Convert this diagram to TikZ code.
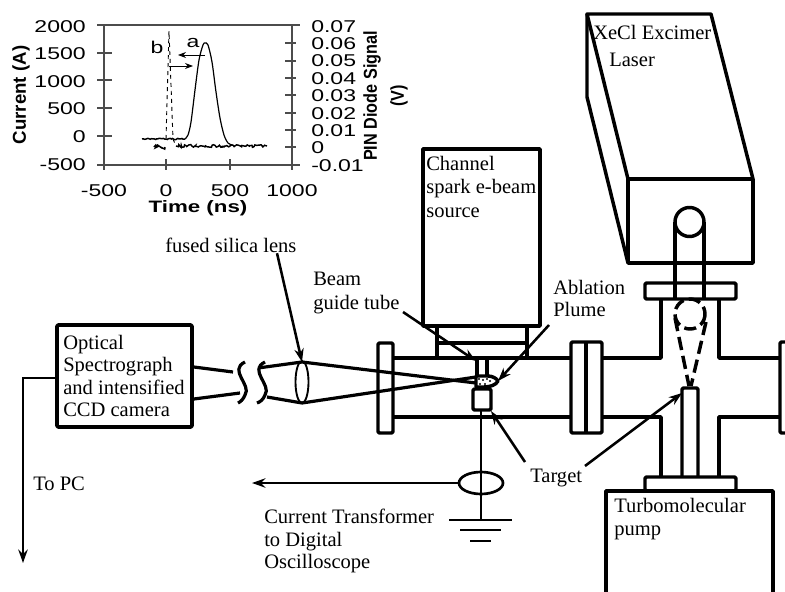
\documentclass[tikz,border=0pt]{standalone}
\usepackage{fontspec}
\setmainfont{Liberation Serif}
\newfontfamily\plotfont[FakeStretch=1.35]{Liberation Sans}
\newfontfamily\axisfont{Liberation Sans}
\usetikzlibrary{arrows.meta,decorations.pathmorphing,shapes.geometric}

\begin{document}
\begin{tikzpicture}[
  x=0.75pt, y=-0.75pt,
  wall/.style={draw, line width=2.6pt, line join=round},
  beam/.style={draw, line width=2.4pt, line join=round},
  arrow/.style={-{Stealth[length=10pt,width=7pt]}, line width=1.9pt},
  txt/.style={align=left, inner sep=0pt, anchor=north west, font=\fontsize{15.4}{17.5}\selectfont},
  axisline/.style={draw=black!70, line width=0.8pt},
  axisnum/.style={inner sep=0pt, font=\plotfont\fontsize{12.8}{13}\selectfont},
  axisname/.style={inner sep=0pt, font=\axisfont\bfseries\fontsize{14}{14}\selectfont},
  smallarrow/.style={-{Stealth[length=6pt,width=4.5pt]}, line width=0.7pt},
  noise/.style={line width=1.1pt, decorate, decoration={random steps, segment length=1pt, amplitude=#1}}
]
\useasboundingbox (0,0) rectangle (785,592);

% inset plot
\draw[axisline] (97,25) -- (300,25);
\draw[axisline] (97,165) -- (300,165);
\draw[axisline] (104,25) -- (104,170);
\draw[axisline] (292,25) -- (292,170);
\foreach \y in {53,80,108,136} \draw[axisline] (97,\y) -- (112,\y);
\foreach \y in {43,61,78,95,113,130,147} \draw[axisline] (285,\y) -- (296,\y);
\foreach \x in {166,230} \draw[axisline] (\x,159) -- (\x,170);
\foreach \t/\y in {2000/27,1500/54,1000/82,500/109,0/137,-500/165}
  \node[axisnum, anchor=east] (left\y) at (86,\y) {\t};
\foreach \t/\y in {0.07/27,0.06/44,0.05/61,0.04/79,0.03/96,0.02/114,0.01/131,0/148,-0.01/166}
  \node[axisnum, anchor=west] (right\y) at (311,\y) {\t};
\foreach \t/\x in {-500/104,0/166,500/230,1000/292}
  \node[axisnum] (bottom\x) at (\x,191) {\t};
\node[inner sep=0pt, font=\plotfont\bfseries\fontsize{12.4}{13}\selectfont] (time) at (198,208) {Time (ns)};
\node[axisname, rotate=90] (current) at (21,95) {Current (A)};
\node[axisname, rotate=90, xscale=0.87] (pin) at (372,96) {PIN Diode Signal};
\node[axisname, rotate=90, xscale=0.87] (volt) at (399,96) {(V)};
\node[axisnum] (a) at (193,43) {a};
\node[axisnum] (b) at (157,47) {b};
\pgfmathsetseed{7}
\draw[noise=0.5pt] (142,139) -- (185,139);
\draw[line width=0.9pt] plot[smooth] coordinates {(185,139) (188,135) (191,122) (195,90) (199,60) (203,45) (205,43) (208,45) (212,62) (216,92) (220,118) (224,135) (228,143) (232,145)};
\draw[noise=1pt] (176,146) -- (267,146);
\draw[noise=1.6pt] (154,147) -- (165,147);
\draw[line width=0.7pt, dashed] (166,139) -- (169,31) -- (173,139) -- (176,146);
\coordinate (atail) at (205,55);
\coordinate (ahead) at (178,55);
\coordinate (btail) at (169,66);
\coordinate (bhead) at (193,66);
\draw[smallarrow] (atail) -- (ahead);
\draw[smallarrow] (btail) -- (bhead);

% laser
\draw[wall] (628,179) rectangle (753,263);
\draw[wall] (628,179) -- (587,14) -- (711,14) -- (753,179);
\draw[wall] (587,14) -- (587,97) -- (628,263);
\draw[wall] (675,283) -- (675,222) (704,222) -- (704,283);
\draw[wall] (689.5,222) circle[radius=14.5];
\node[txt] (laser) at (593,25) {XeCl Excimer\\[2.8pt]\hspace*{12pt}Laser};

% cross and flanges
\draw[wall, rounded corners=1pt] (645,283) rectangle (736,299);
\draw[wall] (675,283) -- (675,299) (704,283) -- (704,299);
\draw[wall] (661,299) -- (661,358) -- (602,358);
\draw[wall] (719,299) -- (719,358) -- (780,358);
\draw[wall] (661,476) -- (661,417) -- (602,417);
\draw[wall] (719,476) -- (719,417) -- (780,417);
\draw[wall, rounded corners=1pt] (785,342) -- (780,342) -- (780,433) -- (785,433);
\draw[wall, rounded corners=1pt] (645,477) rectangle (736,491);
\draw[wall, rounded corners=1pt] (682,476) -- (682,388) -- (698,388) -- (698,476);
\draw[wall] (606,592) -- (606,491) -- (773,491) -- (773,592);
\node[txt] (pump) at (614,498) {Turbomolecular\\pump};
\draw[line width=2.6pt, dash pattern=on 9pt off 4pt] (690,314) circle[radius=15];
\draw[line width=2.6pt, dash pattern=on 10pt off 4.5pt] (675,318) -- (689,386);
\draw[line width=2.6pt, dash pattern=on 10pt off 4.5pt] (706,322) -- (691,386);

% main tube
\draw[wall, rounded corners=1pt] (378,343) rectangle (393,433);
\draw[wall, rounded corners=1pt] (571,342) rectangle (602,433);
\draw[wall] (586,342) -- (586,433);
\draw[wall] (393,358) -- (571,358);
\draw[wall] (393,417) -- (571,417);

% e-beam source
\draw[wall] (423,149) rectangle (540,326);
\draw[wall] (437,326) -- (437,358) (527,326) -- (527,358);
\draw[wall] (437,343) -- (527,343);
\node[txt] (source) at (426,156) {Channel\\spark e-beam\\source};
\draw[wall] (477,358) -- (477,376) (487,358) -- (487,376);
\draw[wall, rounded corners=1pt] (473,389) rectangle (491,410);

% spectrograph and optics
\node[draw, line width=2.8pt, line join=round, rectangle, rounded corners=1pt, minimum width=101.25pt, minimum height=76.5pt, inner sep=0pt] (spectro) at (124.5,376) {};
\node[txt] (spectrotext) at (63,335) {Optical\\[-0.8pt]Spectrograph\\[-0.8pt]and intensified\\[-0.8pt]CCD camera};
\coordinate (upin) at (spectro.east |- 0,367);
\coordinate (lowin) at (spectro.east |- 0,399);
\coordinate (upbreak) at (233,372);
\coordinate (lowbreak) at (240,393);
\coordinate (upout) at (258,368);
\coordinate (lowout) at (267,397);
\coordinate (lenstop) at (302,362);
\coordinate (lensbot) at (302,403);
\draw[beam] (upin) -- (upbreak);
\draw[beam] (lowin) -- (lowbreak);
\draw[beam] (245,362) .. controls (228,370) and (252,385) .. (245,395) .. controls (243,400) and (240,402) .. (238,403);
\draw[beam] (265,362) .. controls (248,370) and (272,385) .. (265,395) .. controls (263,400) and (260,402) .. (257,403);
\draw[beam] (upout) -- (lenstop);
\draw[beam] (lowout) -- (lensbot);
\draw[line width=1.4pt] (302,382) ellipse[x radius=6.5, y radius=21];
\coordinate (beamup) at (476,383);
\coordinate (beamlow) at (476,377);
\draw[beam] (lenstop) -- (beamup);
\draw[beam] (lensbot) -- (beamlow);

% plume
\coordinate (plumetip) at (498,381);
\draw[wall, fill=white] (476,376) -- (488,376) .. controls (493,376) and (497,379) .. (plumetip) .. controls (496,385) and (490,387) .. (484,387) -- (476,387) -- cycle;
\foreach \x/\y in {479/379,483/380,487/379,480/384,485/384,490/381}
  \fill (\x,\y) circle[radius=1.1];

% to PC
\coordinate (pcbend) at (23,378);
\coordinate (pcend) at (23,563);
\draw[arrow, line width=1.7pt] (spectro.west |- pcbend) -- (pcbend) -- (pcend);
\node[txt] (pc) at (33,477) {To PC};

% current transformer and ground
\coordinate (groundtop) at (481,520);
\node[draw, line width=2pt, ellipse, minimum width=33pt, minimum height=16.5pt, inner sep=0pt] (transformer) at (481,483) {};
\draw[wall, line width=1.9pt] (481,410) -- (groundtop);
\draw[wall, line width=1.9pt] (449,520) -- (512,520);
\draw[wall, line width=1.9pt] (460,530) -- (501,530);
\draw[wall, line width=1.9pt] (470,541) -- (491,541);
\coordinate (scope) at (252,483);
\draw[arrow] (transformer) -- (scope);
\node[txt] (transtext) at (264,509) {Current Transformer\\[-0.6pt]to Digital\\[-0.6pt]Oscilloscope};

% labels and their arrows
\node[txt] (lenstext) at (165,238) {fused silica lens};
\draw[arrow] (lenstext.south -| 277,0) -- (lenstop);
\node[txt] (guide) at (313,272) {Beam\\guide tube};
\coordinate (guidestart) at (403,312);
\coordinate (guideend) at (476,361);
\draw[arrow] (guidestart) -- (guideend);
\node[txt] (ablation) at (553,280) {Ablation\\[-0.8pt]Plume};
\coordinate (ablationstart) at (549,325);
\draw[arrow] (ablationstart) -- (plumetip);
\node[txt] (targettext) at (530,469) {Target};
\coordinate (targetleft) at (491,411);
\coordinate (targetright) at (682,393);
\coordinate (targetstartl) at (525,462);
\coordinate (targetstartr) at (585,466);
\draw[arrow] (targetstartl) -- (targetleft);
\draw[arrow] (targetstartr) -- (targetright);
\end{tikzpicture}
\end{document}
